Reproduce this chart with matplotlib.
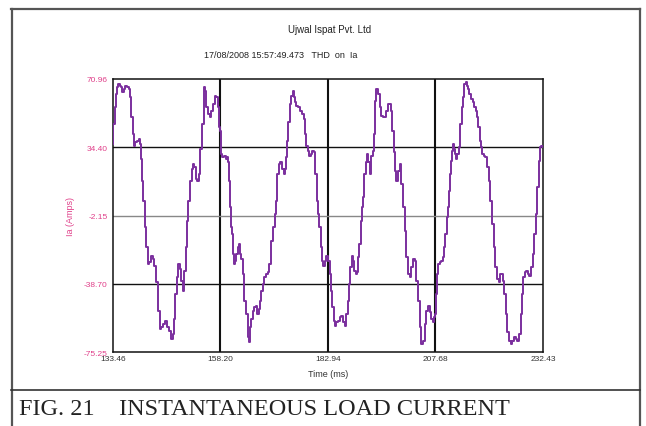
import matplotlib
matplotlib.use("Agg")
import matplotlib.pyplot as plt
from matplotlib.lines import Line2D

# ---- data ----
time_ms = [
    133.46, 133.69, 134.00, 134.22, 134.61, 134.83, 135.22, 135.52, 135.75, 136.13, 136.51, 137.05,
    137.28, 137.51, 137.81, 138.12, 138.42, 138.81, 139.19, 139.57, 139.80, 139.95, 140.26, 140.56,
    140.87, 141.33, 141.63, 142.01, 142.39, 142.78, 143.16, 143.62, 144.00, 144.38, 144.76, 145.14,
    145.68, 146.06, 146.52, 146.98, 147.36, 147.59, 147.97, 148.20, 148.58, 148.96, 149.27, 149.73,
    150.03, 150.41, 150.64, 151.02, 151.41, 151.79, 152.02, 152.32, 152.70, 153.09, 153.31, 153.70,
    154.15, 154.46, 154.76, 155.07, 155.53, 155.83, 156.22, 156.60, 157.06, 157.44, 157.74, 157.97,
    158.20,
    158.21, 158.43, 158.82, 159.21, 159.60, 159.83, 159.98, 160.22, 160.53, 160.76, 160.99, 161.22,
    161.53, 161.77, 162.00, 162.31, 162.54, 162.78, 163.09, 163.47, 163.86, 164.25, 164.64, 164.87,
    165.10, 165.41, 165.80, 166.19, 166.58, 166.81, 167.12, 167.35, 167.74, 168.13, 168.51, 168.90,
    169.29, 169.52, 170.07, 170.45, 170.84, 171.07, 171.46, 171.77, 172.16, 172.55, 172.86, 173.17,
    173.40, 173.71, 173.94, 174.33, 174.72, 174.95, 175.26, 175.49, 175.88, 176.27, 176.66, 177.20,
    177.43, 177.82, 178.13, 178.44, 178.83, 179.14, 179.53, 179.84, 180.15, 180.53, 180.77, 181.08,
    181.39, 181.70, 182.09, 182.47, 182.71, 182.94,
    182.95, 183.17, 183.55, 183.78, 184.09, 184.40, 184.70, 185.09, 185.47, 185.85, 186.23, 186.62,
    187.00, 187.31, 187.61, 187.92, 188.23, 188.53, 188.92, 189.15, 189.53, 189.76, 190.06, 190.29,
    190.60, 190.83, 191.06, 191.44, 191.75, 191.98, 192.36, 192.75, 193.13, 193.36, 193.59, 193.89,
    194.28, 194.66, 195.04, 195.43, 195.81, 196.19, 196.58, 196.96, 197.34, 197.57, 197.88, 198.18,
    198.49, 198.87, 199.26, 199.64, 200.02, 200.41, 200.79, 201.17, 201.55, 201.94, 202.32, 202.70,
    203.09, 203.47, 203.85, 204.24, 204.62, 205.00, 205.38, 205.77, 206.15, 206.53, 206.92, 207.22,
    207.53, 207.68,
    207.84, 208.07, 208.46, 208.85, 209.24, 209.63, 209.86, 210.09, 210.40, 210.64, 210.87, 211.18,
    211.42, 211.65, 211.88, 212.12, 212.35, 212.58, 212.90, 213.21, 213.52, 213.91, 214.14, 214.45,
    214.76, 215.07, 215.31, 215.70, 216.01, 216.40, 216.79, 217.10, 217.41, 217.72, 217.95, 218.19,
    218.58, 218.97, 219.36, 219.74, 220.13, 220.52, 220.91, 221.30, 221.69, 222.08, 222.47, 222.70,
    223.01, 223.25, 223.64, 224.02, 224.41, 224.80, 225.19, 225.58, 225.97, 226.36, 226.75, 227.14,
    227.53, 227.76, 228.07, 228.38, 228.69, 229.08, 229.47, 229.86, 230.25, 230.64, 230.87, 231.26,
    231.57, 231.96, 232.20, 232.43,
]

current_a = [
    36.0, 46.9, 55.8, 62.9, 66.5, 68.3, 67.4, 66.5, 63.8, 65.6, 67.4, 66.5,
    65.6, 61.1, 50.4, 41.5, 35.3, 37.0, 37.9, 38.8, 36.1, 28.1, 16.5, 5.8,
    -8.5, -19.2, -28.1, -27.2, -23.7, -25.4, -29.0, -37.9, -53.1, -62.9, -62.0, -60.3,
    -58.5, -62.0, -63.8, -68.3, -65.6, -57.6, -44.2, -35.3, -28.1, -30.8, -37.0, -42.4,
    -31.7, -19.2, -4.9, 5.8, 16.5, 22.8, 25.4, 23.6, 17.4, 16.5, 20.1, 33.5,
    46.9, 66.5, 64.7, 55.8, 52.2, 50.4, 54.0, 57.6, 62.0, 61.1, 55.8, 45.1,
    43.0,
    33.5, 30.8, 29.0, 29.9, 28.1, 29.0, 26.3, 16.5, 2.2, -8.5, -12.1, -22.8,
    -28.1, -26.3, -22.8, -19.2, -17.4, -22.8, -25.4, -33.5, -47.8, -54.9, -67.4, -70.1,
    -62.0, -57.6, -53.1, -51.3, -50.4, -54.9, -52.2, -47.8, -42.4, -38.8, -35.3, -33.5,
    -32.6, -28.1, -15.6, -8.5, -1.3, 5.8, 20.1, 25.4, 26.3, 22.8, 20.1, 22.8,
    29.0, 37.9, 47.8, 57.6, 62.0, 64.7, 61.1, 58.5, 56.7, 55.8, 54.0, 52.2,
    49.5, 41.5, 35.3, 32.6, 29.9, 30.8, 32.6, 31.7, 20.1, 5.8, -1.3, -8.5,
    -19.2, -26.3, -29.0, -26.3, -23.7, -23.7,
    -23.7, -26.3, -33.5, -42.4, -51.3, -58.5, -61.1, -59.4, -58.5, -56.7, -55.8, -59.4,
    -61.1, -54.9, -47.8, -38.8, -29.9, -23.7, -26.3, -31.7, -33.5, -32.6, -24.6, -17.4,
    -4.9, 2.2, 7.6, 20.1, 26.3, 30.8, 26.3, 20.1, 29.9, 32.6, 41.5, 59.4,
    65.6, 62.9, 55.8, 51.3, 50.4, 50.4, 54.0, 57.6, 57.6, 54.0, 43.3, 31.7,
    21.9, 16.5, 21.9, 25.4, 14.7, 2.2, -10.3, -24.6, -33.5, -35.3, -29.9, -25.4,
    -26.3, -37.0, -47.8, -62.0, -71.0, -69.2, -60.3, -53.1, -50.4, -54.0, -57.6, -59.4,
    -56.7, -54.9,
    -44.2, -33.5, -28.1, -27.2, -26.3, -24.6, -19.2, -12.1, -3.1, 2.2, 11.2, 20.1,
    27.2, 32.6, 36.1, 33.5, 30.8, 28.1, 30.8, 34.4, 46.9, 55.8, 61.1, 68.3,
    69.2, 67.4, 65.6, 62.9, 60.2, 58.5, 55.8, 54.0, 50.4, 45.1, 37.9, 34.4,
    30.8, 29.9, 29.0, 23.6, 16.5, 5.8, -6.7, -19.2, -29.9, -36.2, -37.9, -33.5,
    -33.5, -37.0, -44.2, -54.9, -64.7, -69.2, -71.0, -69.2, -67.4, -68.3, -69.2, -65.6,
    -54.9, -44.2, -35.3, -32.6, -31.7, -33.5, -34.4, -29.9, -22.8, -12.1, -1.3, 12.9,
    27.2, 34.4, 35.3, 34.4,
]

x_ticks = [133.46, 158.20, 182.94, 207.68, 232.43]
x_tick_labels = ["133.46", "158.20", "182.94", "207.68", "232.43"]
y_ticks = [70.96, 34.40, -2.15, -38.70, -75.25]
y_tick_labels = ["70.96", "34.40", "-2.15", "-38.70", "-75.25"]

title_text = "Ujwal Ispat Pvt. Ltd"
subtitle_text = "17/08/2008 15:57:49.473   THD  on  Ia"
x_label = "Time (ms)"
y_label = "Ia (Amps)"
caption = "FIG. 21    INSTANTANEOUS LOAD CURRENT"

# ---- figure ----
W, H = 646, 427
fig = plt.figure(figsize=(W / 100, H / 100), dpi=100)
fig.patch.set_facecolor("white")

sans = ["Liberation Sans", "DejaVu Sans"]
serif = ["Liberation Serif", "DejaVu Serif"]
pink = "#e0408a"
purple = "#7b2f9e"

ax = fig.add_axes([113 / W, 1 - 353 / H, 430 / W, 273 / H])
ax.plot(time_ms, current_a, color=purple, lw=1.4, zorder=3, drawstyle="steps-mid")
ax.set_xlim(x_ticks[0], x_ticks[-1])
ax.set_ylim(y_ticks[-1], y_ticks[0])

ax.set_xticks(x_ticks)
ax.set_xticklabels(x_tick_labels, family=sans, fontsize=6, color="#333333")
ax.set_yticks(y_ticks)
ax.set_yticklabels(y_tick_labels, family=sans, fontsize=6, color=pink)
ax.tick_params(axis="both", length=0)
ax.tick_params(axis="x", pad=2)
ax.tick_params(axis="y", pad=4)

for s in ax.spines.values():
    s.set_color("#111111")
    s.set_linewidth(1.1)

# grid lines at the tick positions
for xv in x_ticks[1:-1]:
    ax.axvline(xv, color="#111111", lw=1.5, zorder=2)
for i, yv in enumerate(y_ticks[1:-1]):
    col = "#888888" if i == 1 else "#111111"
    ax.axhline(yv, color=col, lw=1.0, zorder=2)

ax.set_xlabel(x_label, family=sans, fontsize=6.5, color="#333333", labelpad=5)
ax.yaxis.set_label_coords(-0.088, 0.5)
ax.set_ylabel(y_label, family=sans, fontsize=6.5, color=pink)

fig.text(330 / W, 1 - 30 / H, title_text, family=sans, fontsize=7,
         color="#222222", ha="center", va="center")
fig.text(281 / W, 1 - 55 / H, subtitle_text, family=sans, fontsize=6.5,
         color="#222222", ha="center", va="center")

# outer frame and caption divider
frame_col = "#555555"
fig.add_artist(Line2D([11 / W, 640 / W], [1 - 10 / H, 1 - 10 / H], color=frame_col, lw=1.6))
fig.add_artist(Line2D([11.5 / W, 11.5 / W], [0, 1 - 10 / H], color=frame_col, lw=1.6))
fig.add_artist(Line2D([640 / W, 640 / W], [0, 1 - 10 / H], color=frame_col, lw=1.6))
fig.add_artist(Line2D([11 / W, 640 / W], [1 - 391 / H, 1 - 391 / H], color="#333333", lw=1.2))

fig.text(19 / W, 1 - 410 / H, caption, family=serif, fontsize=17.5,
         color="#222222", ha="left", va="center")

fig.savefig("out.png", dpi=100)
